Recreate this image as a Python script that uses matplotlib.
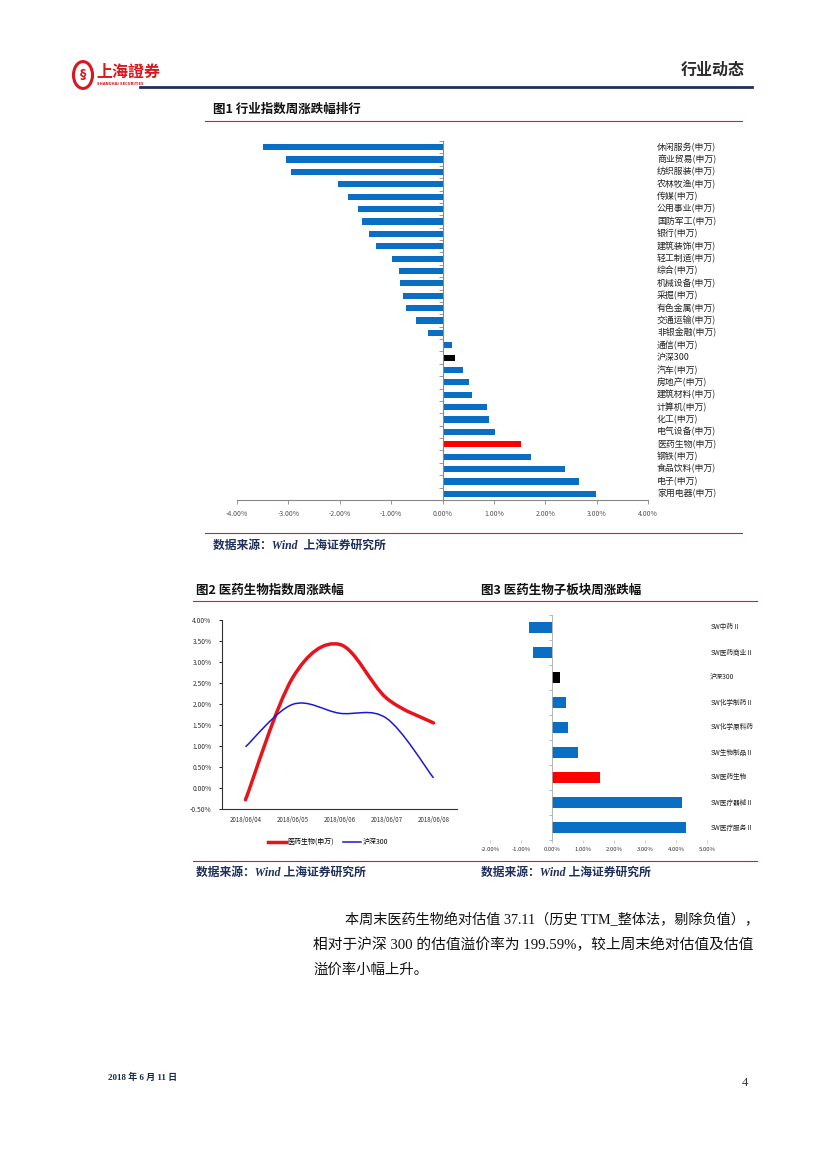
import matplotlib
matplotlib.use('Agg')
import matplotlib.pyplot as plt
from matplotlib.path import Path
from matplotlib.patches import PathPatch, Circle
from matplotlib.lines import Line2D
import matplotlib.transforms as mtransforms
import numpy as np

plt.rcParams['font.family'] = ['Noto Sans CJK SC', 'DejaVu Sans']

# ---------------- data ----------------
industries = ['休闲服务(申万)', '商业贸易(申万)', '纺织服装(申万)', '农林牧渔(申万)', '传媒(申万)',
              '公用事业(申万)', '国防军工(申万)', '银行(申万)', '建筑装饰(申万)', '轻工制造(申万)',
              '综合(申万)', '机械设备(申万)', '采掘(申万)', '有色金属(申万)', '交通运输(申万)',
              '非银金融(申万)', '通信(申万)', '沪深300', '汽车(申万)', '房地产(申万)',
              '建筑材料(申万)', '计算机(申万)', '化工(申万)', '电气设备(申万)', '医药生物(申万)',
              '钢铁(申万)', '食品饮料(申万)', '电子(申万)', '家用电器(申万)']
industry_changes = [-3.50, -3.05, -2.95, -2.04, -1.83, -1.65, -1.57, -1.44, -1.30, -0.99,
                    -0.85, -0.83, -0.76, -0.72, -0.52, -0.29, 0.19, 0.25, 0.39, 0.52,
                    0.58, 0.87, 0.91, 1.03, 1.53, 1.73, 2.39, 2.66, 2.99]
fig1_ticks = [-4, -3, -2, -1, 0, 1, 2, 3, 4]

dates = ['2018/06/04', '2018/06/05', '2018/06/06', '2018/06/07', '2018/06/08']
pharma_series = [-0.28, 2.62, 3.42, 2.14, 1.55]
hs300_series = [0.98, 1.99, 1.78, 1.66, 0.24]
fig2_yticks = [-0.5, 0.0, 0.5, 1.0, 1.5, 2.0, 2.5, 3.0, 3.5, 4.0]
series_names = ['医药生物(申万)', '沪深300']

sub_sectors = ['SW中药Ⅱ', 'SW医药商业Ⅱ', '沪深300', 'SW化学制药Ⅱ', 'SW化学原料药',
               'SW生物制品Ⅱ', 'SW医药生物', 'SW医疗器械Ⅱ', 'SW医疗服务Ⅱ']
sub_changes = [-0.74, -0.60, 0.26, 0.45, 0.52, 0.83, 1.54, 4.19, 4.32]
fig3_ticks = [-2, -1, 0, 1, 2, 3, 4, 5]

BLUE = '#0a6fc2'
RED = '#ff0000'
NAVY = '#1f2f5c'
LINE_RED = '#c0282e'

W, H = 827, 1169
def fx(x): return x / W
def fy(y): return 1 - y / H

fig = plt.figure(figsize=(8.27, 11.69), dpi=100)

# ---------------- header ----------------
fig.add_artist(Circle((fx(83), fy(75)), 9.5 / W, transform=fig.transFigure,
                      facecolor='white', edgecolor='#d7191f', lw=2.2))
fig.text(fx(83), fy(75), '§', color='#d7191f', fontsize=9, fontweight='bold',
         ha='center', va='center', family=['DejaVu Sans'])
fig.text(fx(96), fy(72), '上海證券', color='#d7191f', fontsize=11.5, fontweight='bold',
         ha='left', va='center', family=['Noto Sans CJK TC', 'DejaVu Sans'])
fig.text(fx(97), fy(84), 'SHANGHAI SECURITIES', color='#d7191f', fontsize=2.6,
         fontweight='bold', ha='left', va='center', family=['DejaVu Sans'])
fig.text(fx(745), fy(70), '行业动态', color='#2b2b2b', fontsize=11.5, fontweight='bold',
         ha='right', va='center')
fig.add_artist(Line2D([fx(140), fx(752)], [fy(87), fy(87)], transform=fig.transFigure,
                      color=NAVY, lw=2.0))

# ---------------- figure 1 ----------------
fig.text(fx(213), fy(109), '图1 行业指数周涨跌幅排行', fontsize=9, fontweight='bold',
         ha='left', va='center', color='#111111')
fig.add_artist(Line2D([fx(205), fx(742)], [fy(121), fy(121)], transform=fig.transFigure,
                      color=LINE_RED, lw=0.8))

ax1 = fig.add_axes([fx(237), fy(500), fx(648) - fx(237), (500 - 141) / H])
n1 = len(industries)
ypos = np.arange(n1)
cols1 = []
for name in industries:
    if name == '沪深300':
        cols1.append('black')
    elif name == '医药生物(申万)':
        cols1.append(RED)
    else:
        cols1.append(BLUE)
ax1.barh(ypos, industry_changes, height=0.5, color=cols1)
ax1.set_ylim(n1 - 0.5, -0.5)
ax1.set_xlim(-4, 4)
ax1.set_xticks(fig1_ticks)
ax1.set_xticklabels(['%.2f%%' % t for t in fig1_ticks], fontsize=5, color='#555555')
ax1.set_yticks(np.arange(-0.5, n1, 1))
ax1.set_yticklabels([])
ax1.tick_params(axis='y', length=3, width=0.6, color='#888888', direction='out')
ax1.tick_params(axis='x', length=3, width=0.6, color='#888888', pad=4)
for s in ['top', 'right']:
    ax1.spines[s].set_visible(False)
ax1.spines['left'].set_position(('data', 0))
ax1.spines['left'].set_color('#888888')
ax1.spines['left'].set_linewidth(0.8)
ax1.spines['bottom'].set_color('#888888')
ax1.spines['bottom'].set_linewidth(0.8)
trans1 = mtransforms.blended_transform_factory(ax1.transAxes, ax1.transData)
for i, name in enumerate(industries):
    ax1.text(1.022, i, name, transform=trans1, fontsize=6.4, ha='left', va='center',
             color='#222222')

fig.add_artist(Line2D([fx(205), fx(742)], [fy(533), fy(533)], transform=fig.transFigure,
                      color=LINE_RED, lw=0.8))
fig.text(fx(213), fy(546), '数据来源：Wind  上海证券研究所', fontsize=8.5, fontweight='bold',
         fontstyle='italic', ha='left', va='center', color=NAVY,
         family=['Liberation Serif', 'Noto Sans CJK SC'])

# ---------------- figure 2 / 3 titles ----------------
fig.text(fx(196), fy(590), '图2 医药生物指数周涨跌幅', fontsize=9, fontweight='bold',
         ha='left', va='center', color='#111111')
fig.text(fx(481), fy(590), '图3 医药生物子板块周涨跌幅', fontsize=9, fontweight='bold',
         ha='left', va='center', color='#111111')
fig.add_artist(Line2D([fx(193), fx(757)], [fy(601), fy(601)], transform=fig.transFigure,
                      color=LINE_RED, lw=0.8))

# ---------------- figure 2 ----------------
ax2 = fig.add_axes([fx(222), fy(809), fx(457) - fx(222), (809 - 620) / H])
xs = np.arange(len(dates))


def smooth_path(x, y):
    pts = np.column_stack([x, y]).astype(float)
    ext = np.vstack([pts[0], pts, pts[-1]])
    verts = [tuple(pts[0])]
    codes = [Path.MOVETO]
    for i in range(len(pts) - 1):
        p0, p1, p2, p3 = ext[i], ext[i + 1], ext[i + 2], ext[i + 3]
        c1 = p1 + (p2 - p0) / 6.0
        c2 = p2 - (p3 - p1) / 6.0
        verts += [tuple(c1), tuple(c2), tuple(p2)]
        codes += [Path.CURVE4, Path.CURVE4, Path.CURVE4]
    return Path(verts, codes)


ax2.add_patch(PathPatch(smooth_path(xs, pharma_series), facecolor='none',
                        edgecolor='#e8141c', lw=2.5, capstyle='round'))
ax2.add_patch(PathPatch(smooth_path(xs, hs300_series), facecolor='none',
                        edgecolor='#1a1ad0', lw=1.1))
ax2.set_xlim(-0.5, len(dates) - 0.5)
ax2.set_ylim(-0.5, 4.0)
ax2.set_xticks(xs)
ax2.set_xticklabels(dates, fontsize=4.4, color='#333333')
ax2.set_yticks(fig2_yticks)
ax2.set_yticklabels(['%.2f%%' % t for t in fig2_yticks], fontsize=4.8, color='#333333')
ax2.tick_params(axis='y', length=2.5, width=0.6, pad=5)
ax2.tick_params(axis='x', length=0, pad=5)
for s in ['top', 'right']:
    ax2.spines[s].set_visible(False)
for s in ['left', 'bottom']:
    ax2.spines[s].set_color('#333333')
    ax2.spines[s].set_linewidth(0.8)
handles = [Line2D([], [], color='#e8141c', lw=2.5), Line2D([], [], color='#1a1ad0', lw=1.1)]
fig.legend(handles, series_names, loc='center', bbox_to_anchor=(fx(328), fy(842)), ncol=2,
           frameon=False, fontsize=5, handlelength=2.6, columnspacing=1.2, handletextpad=0.3)

# ---------------- figure 3 ----------------
ax3 = fig.add_axes([fx(490), fy(840), fx(707) - fx(490), (840 - 615) / H])
n3 = len(sub_sectors)
cols3 = []
for name in sub_sectors:
    if name == '沪深300':
        cols3.append('black')
    elif name == 'SW医药生物':
        cols3.append(RED)
    else:
        cols3.append(BLUE)
ax3.barh(np.arange(n3), sub_changes, height=0.45, color=cols3)
ax3.set_ylim(n3 - 0.5, -0.5)
ax3.set_xlim(-2, 5)
ax3.set_xticks(fig3_ticks)
ax3.set_xticklabels(['%.2f%%' % t for t in fig3_ticks], fontsize=4.3, color='#333333')
ax3.set_yticks(np.arange(-0.5, n3, 1))
ax3.set_yticklabels([])
ax3.tick_params(axis='y', length=2, width=0.5, color='#999999')
ax3.tick_params(axis='x', length=2, width=0.5, color='#bbbbbb', pad=3)
for s in ['top', 'right', 'bottom']:
    ax3.spines[s].set_visible(False)
ax3.spines['left'].set_position(('data', 0))
ax3.spines['left'].set_color('#aaaaaa')
ax3.spines['left'].set_linewidth(0.6)
trans3 = mtransforms.blended_transform_factory(ax3.transAxes, ax3.transData)
for i, name in enumerate(sub_sectors):
    ax3.text(1.015, i, name, transform=trans3, fontsize=4.8, ha='left', va='center',
             color='#222222')

fig.add_artist(Line2D([fx(193), fx(757)], [fy(861), fy(861)], transform=fig.transFigure,
                      color=LINE_RED, lw=0.8))
fig.text(fx(196), fy(873), '数据来源：Wind 上海证券研究所', fontsize=8.5, fontweight='bold',
         fontstyle='italic', ha='left', va='center', color=NAVY,
         family=['Liberation Serif', 'Noto Sans CJK SC'])
fig.text(fx(481), fy(873), '数据来源：Wind 上海证券研究所', fontsize=8.5, fontweight='bold',
         fontstyle='italic', ha='left', va='center', color=NAVY,
         family=['Liberation Serif', 'Noto Sans CJK SC'])

# ---------------- paragraph ----------------
para_font = ['Liberation Serif', 'Noto Sans CJK SC']
fig.text(fx(345), fy(920), '本周末医药生物绝对估值 37.11（历史 TTM_整体法，剔除负值），',
         fontsize=10.2, ha='left', va='center', family=para_font, color='#111111')
fig.text(fx(313), fy(945), '相对于沪深 300 的估值溢价率为 199.59%，较上周末绝对估值及估值',
         fontsize=10.6, ha='left', va='center', family=para_font, color='#111111')
fig.text(fx(313), fy(970), '溢价率小幅上升。',
         fontsize=10.4, ha='left', va='center', family=para_font, color='#111111')

# ---------------- footer ----------------
fig.text(fx(108), fy(1077), '2018 年 6 月 11 日', fontsize=6.5, fontweight='bold',
         ha='left', va='center', family=para_font, color='#1a2a4a')
fig.text(fx(748), fy(1083), '4', fontsize=9, ha='right', va='center',
         family=['Liberation Serif'], color='#333333')

fig.savefig('out.png', dpi=100)
